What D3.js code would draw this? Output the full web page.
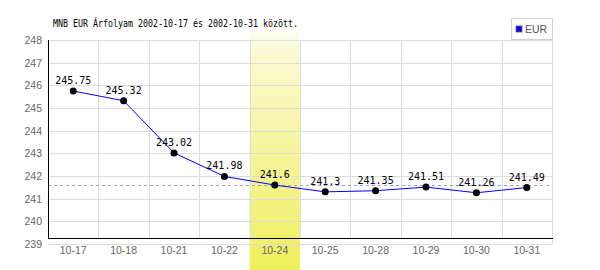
<!DOCTYPE html>
<html>
<head>
<meta charset="utf-8">
<script src="https://cdn.jsdelivr.net/npm/d3@7"></script>
<style>
  body { margin: 0; background: #fff; }
  svg { display: block; }
</style>
</head>
<body>
<svg id="chart" width="600" height="270"></svg>
<script>
// Data
const dates = ['10-17', '10-18', '10-21', '10-22', '10-24', '10-25', '10-28', '10-29', '10-30', '10-31'];
const rates = [245.75, 245.32, 243.02, 241.98, 241.6, 241.3, 241.35, 241.51, 241.26, 241.49];
const yTicks = [239, 240, 241, 242, 243, 244, 245, 246, 247, 248];
const highlightDate = '10-24';
const refValue = 241.6;
const title = 'MNB EUR Árfolyam 2002-10-17 és 2002-10-31 között.';
const seriesName = 'EUR';

const svg = d3.select('#chart');
const plotLeft = 48, plotRight = 552, plotTop = 40, plotBottom = 244, axisY = 238;

const x = d3.scaleBand().domain(dates).range([plotLeft, plotRight]);
const y = d3.scaleLinear().domain([239, 248]).range([plotBottom, plotTop]);

// Highlight band gradient
const defs = svg.append('defs');
const grad = defs.append('linearGradient').attr('id', 'hl').attr('x1', 0).attr('y1', 0).attr('x2', 0).attr('y2', 1);
grad.append('stop').attr('offset', '0%').attr('stop-color', '#ffffff');
grad.append('stop').attr('offset', '10%').attr('stop-color', '#fafad4');
grad.append('stop').attr('offset', '100%').attr('stop-color', '#efef5c');

svg.append('rect')
  .attr('x', x(highlightDate))
  .attr('y', 26)
  .attr('width', x.bandwidth())
  .attr('height', 244)
  .attr('fill', 'url(#hl)');

// Gridlines
const grid = svg.append('g').attr('stroke', '#dcdcdc').attr('stroke-width', 1).attr('shape-rendering', 'crispEdges');
yTicks.forEach(t => {
  grid.append('line').attr('x1', plotLeft).attr('x2', plotRight).attr('y1', Math.round(y(t)) + 0.5).attr('y2', Math.round(y(t)) + 0.5);
});
dates.forEach((d, i) => {
  if (i === 0) return;
  const gx = Math.round(x(d)) + 0.5;
  grid.append('line').attr('x1', gx).attr('x2', gx).attr('y1', plotTop).attr('y2', axisY);
});
grid.append('line').attr('x1', plotRight + 0.5).attr('x2', plotRight + 0.5).attr('y1', plotTop).attr('y2', plotBottom);

// Reference dashed line
svg.append('line')
  .attr('x1', plotLeft).attr('x2', plotRight)
  .attr('y1', Math.round(y(refValue)) + 0.5).attr('y2', Math.round(y(refValue)) + 0.5)
  .attr('stroke', '#9999ff').attr('stroke-dasharray', '3,3').attr('shape-rendering', 'crispEdges');

// Axes
svg.append('line').attr('x1', plotLeft + 0.5).attr('x2', plotLeft + 0.5).attr('y1', plotTop).attr('y2', axisY + 1)
  .attr('stroke', '#000').attr('shape-rendering', 'crispEdges');
svg.append('line').attr('x1', plotLeft).attr('x2', plotRight + 1).attr('y1', axisY + 0.5).attr('y2', axisY + 0.5)
  .attr('stroke', '#000').attr('stroke-width', 1.5).attr('shape-rendering', 'crispEdges');

const yAxis = d3.axisLeft(y).tickValues(yTicks).tickSize(0).tickPadding(6);
const gy = svg.append('g').attr('transform', `translate(${plotLeft},0)`).call(yAxis);
gy.select('.domain').remove();
gy.selectAll('text').attr('fill', '#666').style('font-family', 'Liberation Sans, Arial, sans-serif').style('font-size', '10.5px');

const xAxis = d3.axisBottom(x).tickSize(0).tickPadding(3);
const gx = svg.append('g').attr('transform', `translate(0,${plotBottom})`).call(xAxis);
gx.select('.domain').remove();
gx.selectAll('text').attr('fill', '#666').style('font-family', 'Liberation Sans, Arial, sans-serif').style('font-size', '10.5px');

// Line
const line = d3.line().x(d => x(d.date) + x.bandwidth() / 2).y(d => y(d.v));
const pts = dates.map((d, i) => ({ date: d, v: rates[i] }));
svg.append('path').datum(pts).attr('d', line).attr('fill', 'none').attr('stroke', '#0000ff').attr('stroke-width', 1);

svg.append('g').selectAll('circle').data(pts).enter().append('circle')
  .attr('cx', d => x(d.date) + x.bandwidth() / 2)
  .attr('cy', d => y(d.v))
  .attr('r', 3.5)
  .attr('fill', '#000');

svg.append('g').selectAll('text').data(pts).enter().append('text')
  .attr('x', d => x(d.date) + x.bandwidth() / 2)
  .attr('y', d => y(d.v) - 7)
  .attr('text-anchor', 'middle')
  .style('font-family', 'DejaVu Sans Mono, monospace')
  .style('font-size', '10px')
  .attr('fill', '#000')
  .text(d => d.v);

// Title
svg.append('text')
  .attr('x', 53).attr('y', 27)
  .attr('textLength', 245).attr('lengthAdjust', 'spacingAndGlyphs')
  .style('font-family', 'DejaVu Sans Mono, monospace')
  .style('font-size', '11px')
  .attr('fill', '#000')
  .text(title);

// Legend
const lg = svg.append('g');
lg.append('rect').attr('x', 511.5).attr('y', 18.5).attr('width', 41).attr('height', 21)
  .attr('fill', '#fff').attr('stroke', '#d0d0d0');
lg.append('rect').attr('x', 516).attr('y', 26).attr('width', 6).attr('height', 6)
  .attr('fill', '#0000ff').attr('stroke', '#666').attr('stroke-width', 0.8);
lg.append('text').attr('x', 525).attr('y', 33)
  .style('font-family', 'Liberation Sans, Arial, sans-serif').style('font-size', '10.5px')
  .attr('fill', '#555').text(seriesName);
</script>
</body>
</html>
